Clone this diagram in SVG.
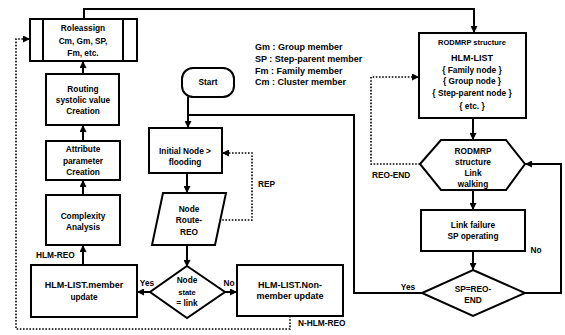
<svg xmlns="http://www.w3.org/2000/svg" width="565" height="335" viewBox="0 0 565 335">
<style>
.box{fill:#fff;stroke:#000;stroke-width:2}
.ln{fill:none;stroke:#000;stroke-width:2}
.dot{fill:none;stroke:#000;stroke-width:1.6;stroke-dasharray:1.6 1.6}
.t{font-family:"Liberation Sans",Arial,sans-serif;font-weight:bold;font-size:8.3px;text-anchor:middle;fill:#000}
.s{font-size:7.5px}
.b{font-size:9px}
.l{text-anchor:start}
</style>
<defs>
<marker id="ah" viewBox="0 0 10 10" refX="10" refY="5" markerWidth="7" markerHeight="7" markerUnits="userSpaceOnUse" orient="auto"><path d="M0,0 L10,5 L0,10 z" fill="#000"/></marker>
</defs>
<rect width="565" height="335" fill="#fff"/>
<g id="connectors">
<path class="ln" d="M84,19 V9 H474 V33" marker-end="url(#ah)"/>
<path class="ln" d="M83,74 V61" marker-end="url(#ah)"/>
<path class="ln" d="M83,141 V125" marker-end="url(#ah)"/>
<path class="ln" d="M83,195 V180" marker-end="url(#ah)"/>
<path class="ln" d="M83,265 V245" marker-end="url(#ah)"/>
<path class="ln" d="M151,292 H137" marker-end="url(#ah)"/>
<path class="ln" d="M224,292 H237" marker-end="url(#ah)"/>
<path class="ln" d="M188,97 V128" marker-end="url(#ah)"/>
<path class="ln" d="M422,293 H354 V115 H188"/>
<path class="ln" d="M187,173 V193" marker-end="url(#ah)"/>
<path class="ln" d="M187,245 V267" marker-end="url(#ah)"/>
<path class="dot" d="M219,220 H252 V153 H222" marker-end="url(#ah)"/>
<path class="dot" d="M290,316 V329 H16 V39 H30" marker-end="url(#ah)"/>
<path class="dot" d="M420,164 H371 V77 H419" marker-end="url(#ah)"/>
<path class="ln" d="M473,118 V140" marker-end="url(#ah)"/>
<path class="ln" d="M473,190 V210" marker-end="url(#ah)"/>
<path class="ln" d="M473,251 V270" marker-end="url(#ah)"/>
<path class="ln" d="M525,293 H561 V164 H525" marker-end="url(#ah)"/>
<text class="t l" x="258" y="187">REP</text>
<text class="t l" x="298" y="326">N-HLM-REO</text>
<text class="t l" x="372" y="178">REO-END</text>
<text class="t l" x="36" y="258">HLM-REO</text>
<text class="t" x="147" y="286">Yes</text>
<text class="t" x="229" y="286">No</text>
<text class="t" x="408" y="290">Yes</text>
<text class="t" x="536" y="253">No</text>
</g>
<g id="roleassign">
<rect class="box" x="30" y="19" width="107" height="42"/>
<line class="ln" x1="43" y1="19" x2="43" y2="61"/>
<line class="ln" x1="123" y1="19" x2="123" y2="61"/>
<text class="t" x="83" y="31">Roleassign</text>
<text class="t" x="83" y="44">Cm, Gm, SP,</text>
<text class="t" x="83" y="56">Fm, etc.</text>
</g>
<g id="routing">
<rect class="box" x="46" y="74" width="73" height="51"/>
<text class="t" x="83" y="92">Routing</text>
<text class="t" x="83" y="103">systolic value</text>
<text class="t" x="83" y="114">Creation</text>
</g>
<g id="attribute">
<rect class="box" x="46" y="141" width="74" height="39"/>
<text class="t" x="83" y="152">Attribute</text>
<text class="t" x="83" y="164">parameter</text>
<text class="t" x="83" y="175">Creation</text>
</g>
<g id="complexity">
<rect class="box" x="46" y="195" width="74" height="50"/>
<text class="t" x="83" y="219">Complexity</text>
<text class="t" x="83" y="230">Analysis</text>
</g>
<g id="hlm-member">
<rect class="box" x="31" y="265" width="106" height="52"/>
<text class="t b" x="84" y="288">HLM-LIST.member</text>
<text class="t" x="84" y="300">update</text>
</g>
<g id="node-state">
<polygon class="box" points="187,266 225,292 187,318 150,292"/>
<text class="t" x="187" y="283">Node</text>
<text class="t s" x="187" y="295">state</text>
<text class="t" x="187" y="306">= link</text>
</g>
<g id="hlm-nonmember">
<rect class="box" x="237" y="265" width="106" height="51"/>
<text class="t b" x="290" y="288">HLM-LIST.Non-</text>
<text class="t b" x="290" y="299">member update</text>
</g>
<g id="start">
<rect class="box" x="182" y="68" width="52" height="29" rx="11"/>
<text class="t" x="208" y="85">Start</text>
</g>
<g id="initial">
<rect class="box" x="149" y="128" width="73" height="45"/>
<text class="t" x="185" y="154">Initial Node &gt;</text>
<text class="t" x="185" y="165">flooding</text>
</g>
<g id="route-req">
<polygon class="box" points="163,193 226,193 215,245 152,245"/>
<text class="t" x="189" y="212">Node</text>
<text class="t" x="189" y="223">Route-</text>
<text class="t" x="189" y="235">REO</text>
</g>
<g id="legend">
<text class="t b l" x="255" y="50">Gm : Group member</text>
<text class="t b l" x="255" y="62">SP : Step-parent member</text>
<text class="t b l" x="255" y="74">Fm : Family member</text>
<text class="t b l" x="255" y="85">Cm : Cluster member</text>
</g>
<g id="rodmrp">
<rect class="box" x="419" y="33" width="107" height="85"/>
<text class="t s" x="472" y="45">RODMRP structure</text>
<text class="t b" x="472" y="61">HLM-LIST</text>
<text class="t" x="472" y="73">{ Family node }</text>
<text class="t" x="472" y="84">{ Group node }</text>
<text class="t" x="472" y="96">{ Step-parent node }</text>
<text class="t" x="472" y="109">{ etc. }</text>
</g>
<g id="link-walking">
<polygon class="box" points="420,164 441,140 506,140 525,164 506,190 441,190"/>
<text class="t" x="473" y="154">RODMRP</text>
<text class="t" x="473" y="165">structure</text>
<text class="t" x="473" y="176">Link</text>
<text class="t" x="473" y="187">walking</text>
</g>
<g id="link-failure">
<rect class="box" x="421" y="210" width="104" height="41"/>
<text class="t" x="473" y="228">Link failure</text>
<text class="t" x="473" y="239">SP operating</text>
</g>
<g id="sp-req-end">
<polygon class="box" points="473,270 525,293 473,316 422,293"/>
<text class="t" x="473" y="292">SP=REO-</text>
<text class="t" x="473" y="303">END</text>
</g>
</svg>
